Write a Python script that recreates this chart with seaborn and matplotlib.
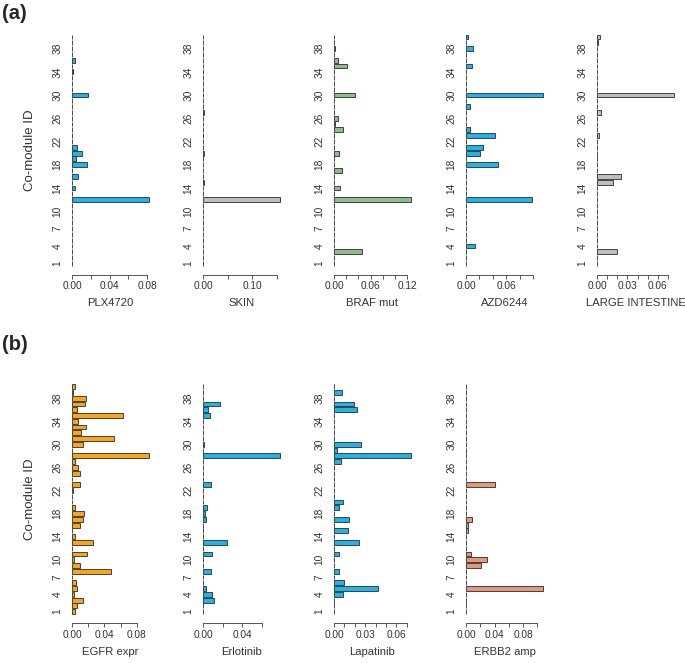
import matplotlib
matplotlib.use("Agg")
import matplotlib.pyplot as plt
import pandas as pd
import seaborn as sns

# co-module ids 1..40, one value per module
modules = list(range(1, 41))

plx4720 = [0, 0, 0, 0, 0, 0, 0, 0, 0, 0,
           0, 0.082, 0, 0.0036, 0, 0.0068, 0, 0.0157, 0.0043, 0.011,
           0.0057, 0, 0, 0, 0, 0, 0, 0, 0, 0.017,
           0, 0, 0, 0.0008, 0, 0.0036, 0, 0, 0, 0]
skin = [0, 0, 0, 0, 0, 0, 0, 0, 0, 0,
        0, 0.156, 0, 0, 0.002, 0, 0, 0, 0, 0.002,
        0, 0, 0, 0, 0, 0, 0.002, 0, 0, 0,
        0, 0, 0, 0, 0, 0, 0, 0, 0, 0]
braf_mut = [0, 0, 0.046, 0, 0, 0, 0, 0, 0, 0,
            0, 0.1265, 0, 0.010, 0, 0, 0.0125, 0, 0, 0.0087,
            0, 0, 0, 0.015, 0.002, 0.006, 0, 0, 0, 0.034,
            0, 0, 0, 0, 0.021, 0.007, 0, 0.002, 0, 0]
azd6244 = [0, 0, 0, 0.014, 0, 0, 0, 0, 0, 0,
           0, 0.0985, 0, 0, 0, 0, 0, 0.0475, 0, 0.0205,
           0.026, 0, 0.044, 0.0065, 0, 0, 0, 0.0065, 0, 0.115,
           0, 0, 0, 0, 0.0095, 0, 0, 0.010, 0, 0.0025]
large_intestine = [0, 0, 0.020, 0, 0, 0, 0, 0, 0, 0,
                   0, 0, 0, 0, 0.0154, 0.0236, 0, 0, 0, 0,
                   0, 0, 0.002, 0, 0, 0, 0.004, 0, 0, 0.076,
                   0, 0, 0, 0, 0, 0, 0, 0, 0.0013, 0.003]
egfr_expr = [0.004, 0.0066, 0.014, 0.002, 0.006, 0.005, 0, 0.0474, 0.0095, 0.0025,
             0.018, 0, 0.0256, 0.0037, 0, 0.0095, 0.014, 0.0148, 0.0037, 0,
             0, 0.001, 0.0095, 0, 0.0103, 0.007, 0.0037, 0.0948, 0, 0.0136,
             0.052, 0.011, 0.0177, 0.007, 0.0627, 0.006, 0.016, 0.0173, 0.0012, 0.0037]
erlotinib = [0, 0, 0.0115, 0.0088, 0.0034, 0, 0, 0.008, 0, 0,
             0.0088, 0, 0.024, 0, 0, 0, 0.003, 0.0024, 0.0037, 0,
             0, 0, 0.008, 0, 0, 0, 0, 0.0786, 0, 0.001,
             0, 0, 0, 0, 0.0071, 0.0047, 0.0176, 0, 0, 0]
lapatinib = [0, 0, 0, 0.009, 0.0426, 0.0097, 0, 0.0048, 0, 0,
             0.0048, 0, 0.0242, 0, 0.0132, 0, 0.0148, 0, 0.0052, 0.009,
             0, 0, 0, 0, 0, 0, 0.0068, 0.0742, 0.0032, 0.0258,
             0, 0, 0, 0, 0, 0.0226, 0.019, 0, 0.008, 0]
erbb2_amp = [0, 0, 0, 0, 0.108, 0, 0, 0, 0.021, 0.0298,
             0.007, 0, 0, 0, 0.0033, 0.0033, 0.0088, 0, 0, 0,
             0, 0, 0.041, 0, 0, 0, 0, 0, 0, 0,
             0, 0, 0, 0, 0, 0, 0, 0, 0, 0]

ytick_ids = [1, 4, 7, 10, 14, 18, 22, 26, 30, 34, 38]

BLUE = "#22b4e6"
GREY = "#bebebe"
GREEN = "#8dbc8d"
ORANGE = "#f7a51c"
SALMON = "#e5967c"
EDGE = "#2a2a2a"
TXT = "#333333"

# (values, colour, name, ticks, tick labels)
panels_a = [
    (plx4720, BLUE, "PLX4720", [0, 0.02, 0.04, 0.06, 0.08], ["0.00", "", "0.04", "", "0.08"]),
    (skin, GREY, "SKIN", [0, 0.05, 0.10, 0.15], ["0.00", "", "0.10", ""]),
    (braf_mut, GREEN, "BRAF mut", [0, 0.02, 0.04, 0.06, 0.08, 0.10, 0.12],
     ["0.00", "", "", "0.06", "", "", "0.12"]),
    (azd6244, BLUE, "AZD6244", [0, 0.02, 0.04, 0.06, 0.08, 0.10],
     ["0.00", "", "", "0.06", "", ""]),
    (large_intestine, GREY, "LARGE INTESTINE", [0, 0.01, 0.02, 0.03, 0.04, 0.05, 0.06, 0.07],
     ["0.00", "", "", "0.03", "", "", "0.06", ""]),
]
panels_b = [
    (egfr_expr, ORANGE, "EGFR expr", [0, 0.02, 0.04, 0.06, 0.08], ["0.00", "", "0.04", "", "0.08"]),
    (erlotinib, BLUE, "Erlotinib", [0, 0.02, 0.04, 0.06], ["0.00", "", "0.04", ""]),
    (lapatinib, BLUE, "Lapatinib", [0, 0.01, 0.02, 0.03, 0.04, 0.05, 0.06, 0.07],
     ["0.00", "", "", "0.03", "", "", "0.06", ""]),
    (erbb2_amp, SALMON, "ERBB2 amp", [0, 0.02, 0.04, 0.06, 0.08, 0.10],
     ["0.00", "", "0.04", "", "0.08", ""]),
]

sns.set_theme(style="white")
plt.rcParams["font.family"] = ["Liberation Sans", "DejaVu Sans"]

W, H = 685, 663
fig = plt.figure(figsize=(W / 100, H / 100), dpi=100)

X0 = [72, 203, 334, 466, 597]   # pixel position of zero in each column
SPAN = 77                        # pixels from 0 to max bar


def draw_panel(col, top, bottom, panel, first):
    values, color, name, ticks, labels = panel
    vmax = max(values)
    left = X0[col] - 0.04 * SPAN
    width = 1.08 * SPAN
    ax = fig.add_axes([left / W, (H - bottom) / H, width / W, (bottom - top) / H])
    df = pd.DataFrame({"module": modules, "value": values})
    sns.barplot(data=df, x="value", y="module", orient="h", native_scale=True,
                color=color, saturation=1, edgecolor=EDGE, linewidth=0.6,
                width=0.83, errorbar=None, ax=ax)
    ax.set_xlim(-0.04 * vmax, 1.04 * vmax)
    ax.set_ylim(0.3, 40.7)
    for s in ["top", "right", "left"]:
        ax.spines[s].set_visible(False)
    ax.spines["bottom"].set_bounds(ticks[0], ticks[-1])
    ax.spines["bottom"].set_position(("outward", 5.5))
    ax.spines["bottom"].set_color("#555555")
    ax.spines["bottom"].set_linewidth(0.7)
    ax.set_xticks(ticks)
    ax.set_xticklabels(labels)
    ax.tick_params(axis="x", direction="out", length=3, width=0.7, color="#555555",
                   labelsize=7.3, labelcolor=TXT, pad=1.5, bottom=True)
    ax.set_yticks(ytick_ids)
    ax.set_yticklabels([str(i) for i in ytick_ids], rotation=90, va="center")
    ax.tick_params(axis="y", length=0, labelsize=7.3, labelcolor=TXT, pad=4.5)
    ax.set_xlabel(name, fontsize=8.1, color=TXT, labelpad=5)
    if first:
        ax.set_ylabel("Co-module ID", fontsize=9.5, color=TXT, labelpad=12)
    else:
        ax.set_ylabel("")
    ax.grid(False)


for i, p in enumerate(panels_a):
    draw_panel(i, 33.0, 267.4, p, i == 0)
for i, p in enumerate(panels_b):
    draw_panel(i, 382.6, 615.7, p, i == 0)

fig.text(2 / W, 1 - 4 / H, "(a)", fontsize=14.5, fontweight="bold", va="top", ha="left")
fig.text(2 / W, 1 - 335 / H, "(b)", fontsize=14.5, fontweight="bold", va="top", ha="left")

fig.savefig("out.png", dpi=100, facecolor="white")
